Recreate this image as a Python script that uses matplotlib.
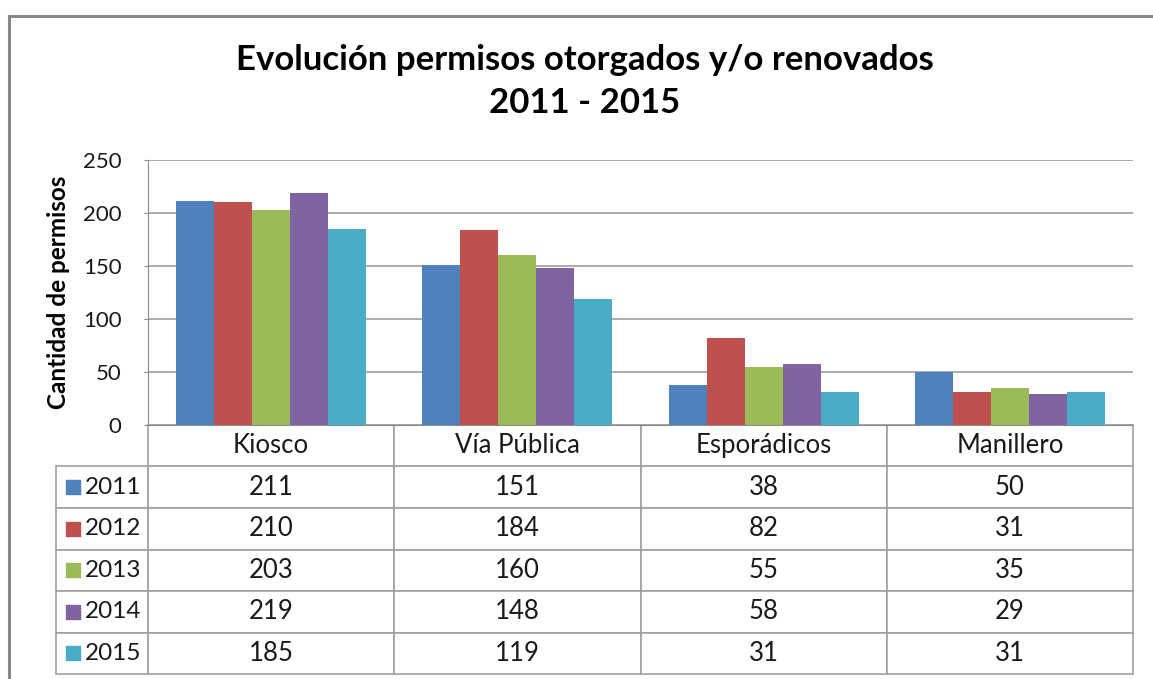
import matplotlib
matplotlib.use('Agg')
import matplotlib.pyplot as plt
import matplotlib.patches as mpatches
import numpy as np

plt.rcParams['font.family'] = ['Lato', 'DejaVu Sans']

# ── Data ──────────────────────────────────────────────────────
categories = ["Kiosco", "Vía Pública", "Esporádicos", "Manillero"]
years = ["2011", "2012", "2013", "2014", "2015"]
v2011 = [211, 151, 38, 50]
v2012 = [210, 184, 82, 31]
v2013 = [203, 160, 55, 35]
v2014 = [219, 148, 58, 29]
v2015 = [185, 119, 31, 31]
series = [v2011, v2012, v2013, v2014, v2015]
colors = ["#4F81BD", "#C0504D", "#9BBB59", "#8064A2", "#4BACC6"]
yticks = [0, 50, 100, 150, 200, 250]

W, H = 1153, 679
fig = plt.figure(figsize=(W / 100, H / 100), dpi=100)

# outer chart frame (partially cropped in the original)
fig.patches.append(mpatches.Rectangle((8.5 / W, -0.05), 1.1, 1 - 15.5 / H + 0.05,
                                      transform=fig.transFigure, fill=False,
                                      edgecolor="#878787", linewidth=2.2))

left, right, top, bottom = 148, 1133, 160, 425
ax = fig.add_axes([left / W, 1 - bottom / H, (right - left) / W, (bottom - top) / H])

x = np.arange(len(categories))
bw = 0.1543
for i, (vals, c) in enumerate(zip(series, colors)):
    ax.bar(x + (i - 2) * bw, vals, bw, color=c, zorder=3)

ax.set_xlim(-0.5, len(categories) - 0.5)
ax.set_ylim(0, 250)
ax.set_yticks(yticks)
ax.set_xticks([])
ax.yaxis.grid(True, color="#A6A6A6", linewidth=1.3, zorder=0)
for s in ["top", "right"]:
    ax.spines[s].set_visible(False)
ax.spines["left"].set_color("#8C8C8C")
ax.spines["bottom"].set_color("#8C8C8C")
ax.tick_params(axis='y', length=3, color="#8C8C8C", labelsize=16, pad=16,
               labelcolor="#1a1a1a")
ax.set_ylabel("Cantidad de permisos", fontsize=17.5, fontweight='bold')
ax.yaxis.set_label_coords((70 - left) / (right - left), 0.5)

# data table below the plot (first column holds the legend keys + years)
tbl_left = (56 - left) / (right - left)
row_h = 41.5 / (bottom - top)
cell_text = [[y] + [str(v) for v in vals] for y, vals in zip(years, series)]
tbl = ax.table(cellText=cell_text, colLabels=[""] + categories,
               cellLoc='center', colWidths=[92] + [246.25] * 4,
               bbox=[tbl_left, -6 * row_h, 1 - tbl_left, 6 * row_h])
tbl.auto_set_font_size(False)
tbl.set_fontsize(18.5)
for (r, c), cell in tbl.get_celld().items():
    cell.set_edgecolor("#A0A0A0")
    cell.set_linewidth(1.2)
    cell.get_text().set_color("#1a1a1a")
    if c == 0:
        cell._loc = 'right'
        cell.PAD = 0.07
        cell.get_text().set_horizontalalignment('right')
        cell.get_text().set_fontsize(17.5)
tbl[0, 0].visible_edges = ''

# legend keys in the first column
for i, c in enumerate(colors):
    ax.scatter([(73 - left) / (right - left)], [-(i + 1.5) * row_h], marker='s', s=100,
               color=c, transform=ax.transAxes, clip_on=False, zorder=5)

fig.text(0.507, 1 - 60 / H, "Evolución permisos otorgados y/o renovados",
         ha='center', va='center', fontsize=25, fontweight='bold')
fig.text(0.507, 1 - 103 / H, "2011 - 2015",
         ha='center', va='center', fontsize=25, fontweight='bold')

plt.savefig("out.png", dpi=100)
